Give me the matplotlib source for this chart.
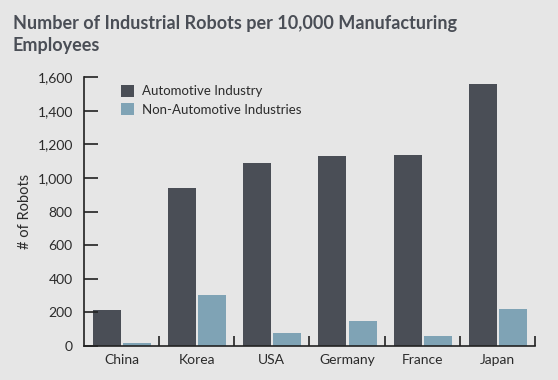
import matplotlib
matplotlib.use('Agg')
import matplotlib.pyplot as plt
import numpy as np
from matplotlib.ticker import FuncFormatter

plt.rcParams['font.family'] = ['Lato', 'DejaVu Sans']

countries = ['China', 'Korea', 'USA', 'Germany', 'France', 'Japan']
automotive = [215, 940, 1090, 1130, 1137, 1560]
non_automotive = [15, 303, 77, 149, 60, 220]

bg = '#e6e6e6'
dark = '#4a4e56'
light = '#7fa3b5'
txt = '#2b2b2b'

fig = plt.figure(figsize=(5.58, 3.8), dpi=100, facecolor=bg)
ax = fig.add_axes([0.1505, 0.0895, 0.808, 0.7075], facecolor=bg)

x = np.arange(len(countries))
ax.bar(x - 0.193, automotive, width=0.373, color=dark, label='Automotive Industry')
ax.bar(x + 0.207, non_automotive, width=0.373, color=light, label='Non-Automotive Industries')

ax.set_xlim(-0.5, len(countries) - 0.5)
ax.set_ylim(0, 1600)
ax.set_yticks(range(0, 1601, 200))
ax.yaxis.set_major_formatter(FuncFormatter(lambda v, p: f'{int(v):,}'))
ax.set_xticks(x)
ax.set_xticklabels(countries)
ax.set_xticks(np.arange(len(countries)) + 0.5, minor=True)

ax.tick_params(axis='y', direction='in', length=10, width=1.2, colors='#222222',
               labelsize=10, labelcolor=txt, pad=8)
ax.tick_params(axis='x', which='major', length=0, labelsize=10, labelcolor=txt, pad=6)
ax.tick_params(axis='x', which='minor', direction='in', length=7, width=1.2, colors='#222222')

for s in ['top', 'right']:
    ax.spines[s].set_visible(False)
for s in ['left', 'bottom']:
    ax.spines[s].set_linewidth(1.2)
    ax.spines[s].set_color('#222222')

ax.set_ylabel('# of Robots', fontsize=10.5, color=txt, labelpad=4)

ax.legend(loc='upper left', bbox_to_anchor=(0.055, 1.015), frameon=False, fontsize=9.5,
          handlelength=1.0, handleheight=1.0, handletextpad=0.6, labelspacing=0.45,
          labelcolor=txt)

fig.text(0.023, 0.96, 'Number of Industrial Robots per 10,000 Manufacturing\nEmployees',
         fontsize=13, fontweight='bold', color='#4a4e56', va='top', ha='left',
         linespacing=1.35)

fig.savefig('out.png', dpi=100, facecolor=bg)
